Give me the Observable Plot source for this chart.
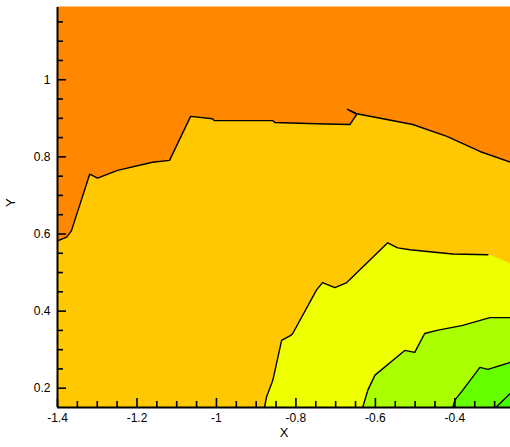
<!DOCTYPE html>
<html>
<head>
<meta charset="utf-8">
<script src="https://cdn.jsdelivr.net/npm/d3@7"></script>
<script src="https://cdn.jsdelivr.net/npm/@observablehq/plot@0.6"></script>
<style>
  html, body { margin: 0; padding: 0; background: #fff; }
  #chart svg { display: block; }
</style>
</head>
<body>
<div id="chart"></div>
<script>
// Axis extents and ticks
const xDomain = [-1.4, -0.26];
const yDomain = [0.15, 1.19];
const xTicks = [-1.4, -1.2, -1, -0.8, -0.6, -0.4];
const xMinorTicks = [-1.35, -1.3, -1.25, -1.15, -1.1, -1.05, -0.95, -0.9, -0.85, -0.75, -0.7, -0.65, -0.55, -0.5, -0.45, -0.35, -0.3];
const yTicks = [0.2, 0.4, 0.6, 0.8, 1];
const yMinorTicks = [0.25, 0.3, 0.35, 0.45, 0.5, 0.55, 0.65, 0.7, 0.75, 0.85, 0.9, 0.95, 1.05, 1.1, 1.15];

// Contour level colours (back to front)
const levelColors = ["#FF8800", "#FFC800", "#EEFF00", "#AAFF00", "#66FF00", "#44FF00"];

// Contour boundaries: [x, y]
const bound1 = [[-1.40,0.582],[-1.377,0.592],[-1.365,0.608],[-1.319,0.755],[-1.299,0.745],[-1.249,0.765],[-1.161,0.786],[-1.118,0.791],[-1.065,0.905],[-1.010,0.899],[-1.005,0.894],[-0.858,0.894],[-0.853,0.889],[-0.748,0.886],[-0.664,0.884],[-0.647,0.910],[-0.670,0.923],[-0.647,0.912],[-0.581,0.899],[-0.506,0.884],[-0.420,0.853],[-0.337,0.814],[-0.26,0.786]];
const bound2 = [[-0.879,0.15],[-0.874,0.177],[-0.858,0.221],[-0.836,0.324],[-0.813,0.337],[-0.808,0.342],[-0.748,0.455],[-0.733,0.474],[-0.702,0.461],[-0.672,0.474],[-0.569,0.577],[-0.544,0.564],[-0.513,0.559],[-0.463,0.554],[-0.405,0.548],[-0.317,0.546],[-0.304,0.543],[-0.26,0.523]];
const bound3 = [[-0.632,0.15],[-0.619,0.195],[-0.601,0.234],[-0.526,0.298],[-0.501,0.293],[-0.476,0.342],[-0.445,0.350],[-0.380,0.363],[-0.312,0.383],[-0.26,0.383]];
const bound4 = [[-0.405,0.15],[-0.400,0.169],[-0.380,0.195],[-0.337,0.254],[-0.317,0.249],[-0.26,0.267]];
const bound5 = [[-0.297,0.15],[-0.26,0.187]];
// how many points of each boundary carry a drawn contour line
const lineCounts = [23, 16, 10, 6, 2];

const bounds = [bound1, bound2, bound3, bound4, bound5];

const polys = bounds.map((b, i) => {
  const pts = b.map(([x, y]) => ({x, y}));
  pts.push({x: xDomain[1], y: yDomain[0]});
  if (i === 0) pts.push({x: xDomain[0], y: yDomain[0]});
  return pts;
});
const lines = bounds.map((b, i) => b.slice(0, lineCounts[i]).map(([x, y]) => ({x, y})));

const W = 510, H = 447;
const mL = 57, mR = 0, mT = 6, mB = 40;
const frameW = W - mL - mR, frameH = H - mT - mB;
const majorLen = 9, minorLen = 6;

const fmt = d => String(d);

const marks = [
  Plot.frame({fill: levelColors[0], stroke: "none"}),
  ...polys.map((p, i) => Plot.line(p, {x: "x", y: "y", fill: levelColors[i + 1], stroke: "none", curve: "linear-closed"})),
  ...lines.map(l => Plot.line(l, {x: "x", y: "y", stroke: "black", strokeWidth: 1.4})),
  // inward ticks
  Plot.ruleX(xTicks, {x: d => d, insetTop: frameH - majorLen, stroke: "black", strokeWidth: 1.6}),
  Plot.ruleX(xMinorTicks, {x: d => d, insetTop: frameH - minorLen, stroke: "black", strokeWidth: 1.6}),
  Plot.ruleY(yTicks, {y: d => d, insetRight: frameW - majorLen, stroke: "black", strokeWidth: 1.6}),
  Plot.ruleY(yMinorTicks, {y: d => d, insetRight: frameW - minorLen, stroke: "black", strokeWidth: 1.6}),
  // axis lines
  Plot.ruleY([yDomain[0]], {stroke: "black", strokeWidth: 2}),
  Plot.ruleX([xDomain[0]], {stroke: "black", strokeWidth: 2, insetTop: 1}),
  Plot.axisX({ticks: xTicks, tickSize: 0, tickPadding: 6, tickFormat: fmt, label: null}),
  Plot.axisY({ticks: yTicks, tickSize: 0, tickPadding: 7, tickFormat: fmt, label: null}),
  Plot.text(["X"], {frameAnchor: "bottom", dy: 29, fontSize: 13}),
  Plot.text(["Y"], {frameAnchor: "left", dx: -47, rotate: -90, fontSize: 13})
];

const chart = Plot.plot({
  width: W,
  height: H,
  marginLeft: mL,
  marginRight: mR,
  marginTop: mT,
  marginBottom: mB,
  style: {fontFamily: "Liberation Sans, Arial, sans-serif", fontSize: "12px", color: "black", background: "white"},
  x: {domain: xDomain, axis: null},
  y: {domain: yDomain, axis: null},
  marks
});
document.getElementById("chart").appendChild(chart);
</script>
</body>
</html>
